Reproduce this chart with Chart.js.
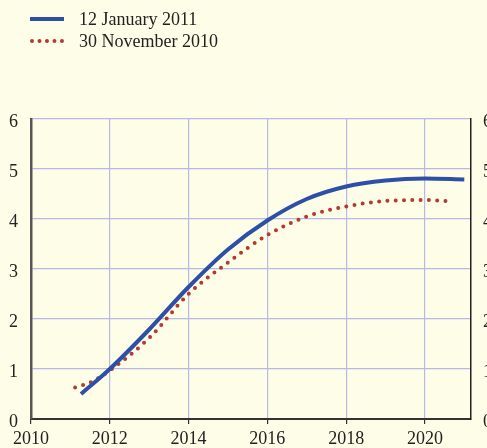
<!DOCTYPE html>
<html>
<head>
<meta charset="utf-8">
<script src="https://cdn.jsdelivr.net/npm/chart.js@4.4.0/dist/chart.umd.min.js"></script>
<style>
  html, body { margin: 0; padding: 0; background: #fefde8; overflow: hidden; }
  body { width: 487px; height: 448px; position: relative; }
  #wrap { position: absolute; left: 0; top: 0; width: 500px; height: 448px; }
  .legend { position: absolute; left: 30px; font-family: "Liberation Serif", serif; font-size: 18px; color: #222; }
  .legend .row { display: flex; align-items: center; height: 22px; }
  .legend .swatch { width: 34px; margin-right: 15px; }
  .solid { border-top: 4px solid #2e4fa6; }
  .dotted { border-top: 4px dotted #b33a2f; }
</style>
</head>
<body>
<div id="wrap"><canvas id="chart-1" width="500" height="448"></canvas></div>
<div class="legend" style="top:8px">
  <div class="row"><div class="swatch solid"></div><span>12 January 2011</span></div>
  <div class="row"><div class="swatch dotted"></div><span>30 November 2010</span></div>
</div>
<script>
const janYears = [2011.27, 2012, 2013, 2014, 2015, 2016, 2017, 2018, 2019, 2020, 2021.0];
const janValues = [0.5, 1.0, 1.79, 2.64, 3.39, 3.97, 4.4, 4.65, 4.77, 4.81, 4.79];
const novYears = [2011.12, 2011.5, 2012, 2013, 2014, 2015, 2016, 2017, 2018, 2019, 2020, 2020.72];
const novValues = [0.63, 0.73, 0.97, 1.62, 2.5, 3.13, 3.68, 4.05, 4.25, 4.36, 4.38, 4.35];
const seriesLabels = ["12 January 2011", "30 November 2010"];

const toPoints = (xs, ys) => xs.map((x, i) => ({ x: x, y: ys[i] }));
const tickFont = { family: "Liberation Serif", size: 18 };

const ctx1 = document.getElementById("chart-1").getContext("2d");
const myChart = new Chart(ctx1, {
  type: "line",
  data: {
    datasets: [
      {
        label: seriesLabels[0],
        data: toPoints(janYears, janValues),
        borderColor: "#2e4fa6",
        borderWidth: 4,
        pointRadius: 0,
        cubicInterpolationMode: "monotone",
      },
      {
        label: seriesLabels[1],
        data: toPoints(novYears, novValues),
        borderColor: "#b33a2f",
        borderWidth: 4,
        borderDash: [0, 8.3],
        borderCapStyle: "round",
        pointRadius: 0,
        cubicInterpolationMode: "monotone",
      },
    ],
  },
  options: {
    responsive: false,
    animation: false,
    layout: { padding: { top: 119, left: 0, right: 0, bottom: 0 } },
    plugins: { legend: { display: false }, tooltip: { enabled: false } },
    scales: {
      x: {
        type: "linear",
        min: 2010,
        max: 2021.17,
        ticks: { stepSize: 2, includeBounds: false, color: "#222", font: tickFont, padding: 4, maxRotation: 0,
                 callback: (v) => String(v) },
        grid: { color: "#b9b9e6", lineWidth: 1.2, tickColor: "#333", tickLength: 5 },
        border: { color: "#333", width: 2 },
        afterFit: (s) => { s.height = 29; },
      },
      y: {
        position: "left",
        min: 0,
        max: 6,
        ticks: { stepSize: 1, color: "#222", font: tickFont, padding: 13, labelOffset: 3 },
        grid: { color: "#b9b9e6", lineWidth: 1.2, drawTicks: false },
        border: { color: "#555", width: 2.5 },
        afterFit: (s) => { s.width = 31; },
      },
      y1: {
        position: "right",
        min: 0,
        max: 6,
        ticks: { stepSize: 1, color: "#222", font: tickFont, padding: 12, labelOffset: 3 },
        grid: { drawOnChartArea: false, drawTicks: false },
        border: { color: "#222", width: 1.5 },
        afterFit: (s) => { s.width = 29; },
      },
    },
  },
});
</script>
</body>
</html>
